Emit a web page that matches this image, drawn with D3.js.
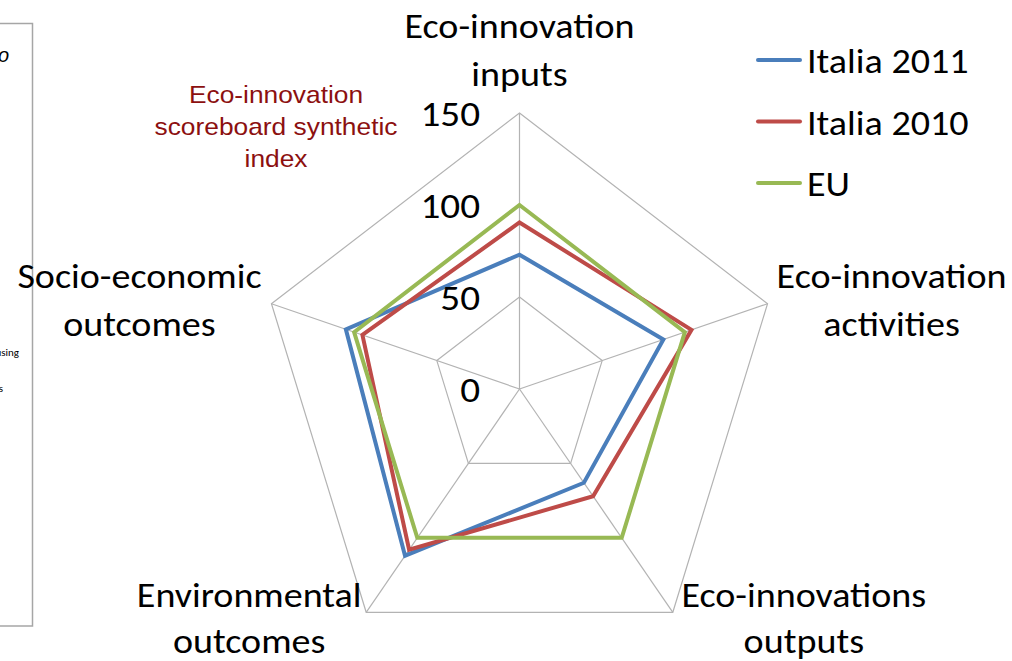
<!DOCTYPE html>
<html><head><meta charset="utf-8">
<script src="https://cdn.jsdelivr.net/npm/d3@7"></script>
<style>body{margin:0;background:#fff} svg{display:block}</style>
</head><body><svg id="c" width="1012" height="661"></svg>
<script>
// ---- data ----
const axisLabels = [["Eco-innovation","inputs"],["Eco-innovation","activities"],["Eco-innovations","outputs"],["Environmental","outcomes"],["Socio-economic","outcomes"]];
const seriesNames = ["Italia 2011","Italia 2010","EU"];
const italia2011 = [73, 87, 63, 112, 105];
const italia2010 = [90.5, 104, 72, 108, 95];
const eu = [100, 100, 100, 100, 100];
const tickValues = [0, 50, 100, 150];
const gridValues = [50, 100, 150];
const annotation = ["Eco-innovation","scoreboard synthetic","index"];

// ---- layout / style ----
const colors = ["#4A7EBB", "#BE4B48", "#98B954"];
const cx = 519.5, cy = 389, sx = 0.945;
const svg = d3.select("#c");
const r = d3.scaleLinear().domain([0,150]).range([0,276]);
const n = axisLabels.length;
const ang = i => (-90 + 360/n*i) * Math.PI/180;
const pt = (i,v) => [cx + sx*r(v)*Math.cos(ang(i)), cy + r(v)*Math.sin(ang(i))];
const labelFont = "Carlito, Lato, 'Open Sans', sans-serif";

// left panel fragment
svg.append("path").attr("d","M-5,23.5H32.5V626H-5").attr("fill","none").attr("stroke","#a6a6a6").attr("stroke-width",1.5);
svg.append("text").attr("x",9).attr("y",62).attr("text-anchor","end").attr("font-family","Liberation Sans, Arial").attr("font-style","italic").attr("font-size",20).text("o");
svg.append("text").attr("x",19).attr("y",356).attr("text-anchor","end").attr("font-family",labelFont).attr("font-size",11).text("using");
svg.append("text").attr("x",3).attr("y",392).attr("text-anchor","end").attr("font-family",labelFont).attr("font-size",11).text("s");

// grid
const grid = svg.append("g").attr("fill","none").attr("stroke","#b3b3b3").attr("stroke-width",1.2);
gridValues.forEach(v=>{
  grid.append("path").attr("d", d3.line()(d3.range(n).map(i=>pt(i,v))) + "Z");
});
d3.range(n).forEach(i=>{
  grid.append("line").attr("x1",cx).attr("y1",cy).attr("x2",pt(i,150)[0]).attr("y2",pt(i,150)[1]);
});

// series
const allSeries = [italia2011, italia2010, eu];
allSeries.forEach((s,k)=>{
  svg.append("path").attr("d", d3.line()(s.map((v,i)=>pt(i,v))) + "Z")
    .attr("fill","none").attr("stroke",colors[k]).attr("stroke-width",4).attr("stroke-linejoin","miter");
});

// measure helper for horizontal compression
function measure(txt, font, size){
  const t = svg.append("text").attr("font-family",font).attr("font-size",size).text(txt);
  const w = t.node().getComputedTextLength(); t.remove(); return w;
}
const kL = 230 / measure("Eco-innovation", labelFont, 34);

// tick labels
tickValues.forEach(v=>{
  svg.append("g").attr("transform",`translate(480,${cy - r(v) + 13}) scale(${kL},1)`)
    .append("text").attr("text-anchor","end").attr("font-family",labelFont).attr("font-size",35).attr("fill","#000").text(v);
});

// axis labels
const labelOffsets = [[0,-75],[124,-16],[131,-5],[-117,-5],[-132,-16]];
const lineGaps = [48,48,46,46,48];
axisLabels.forEach((lines,i)=>{
  const p = pt(i,150);
  lines.forEach((ln,j)=>{
    svg.append("g").attr("transform",`translate(${p[0]+labelOffsets[i][0]},${p[1]+labelOffsets[i][1]+j*lineGaps[i]}) scale(${kL},1)`)
      .append("text").attr("text-anchor","middle").attr("font-family",labelFont).attr("font-size",34).attr("fill","#000").text(ln);
  });
});

// legend
seriesNames.forEach((name,k)=>{
  const y = 60 + k*61.5;
  svg.append("line").attr("x1",758).attr("x2",800).attr("y1",y).attr("y2",y)
    .attr("stroke",colors[k]).attr("stroke-width",4).attr("stroke-linecap","round");
  svg.append("g").attr("transform",`translate(807,${y+13}) scale(${kL},1)`)
    .append("text").attr("font-family",labelFont).attr("font-size",34).attr("fill","#000").text(name);
});

// annotation
const annFont = "'Liberation Sans', Arial, sans-serif";
const kA = 243 / measure("scoreboard synthetic", annFont, 24);
annotation.forEach((ln,j)=>{
  svg.append("g").attr("transform",`translate(276,${103 + j*32}) scale(${kA},1)`)
    .append("text").attr("text-anchor","middle").attr("font-family",annFont).attr("font-size",24).attr("fill","#8C1010").text(ln);
});
</script></body></html>
